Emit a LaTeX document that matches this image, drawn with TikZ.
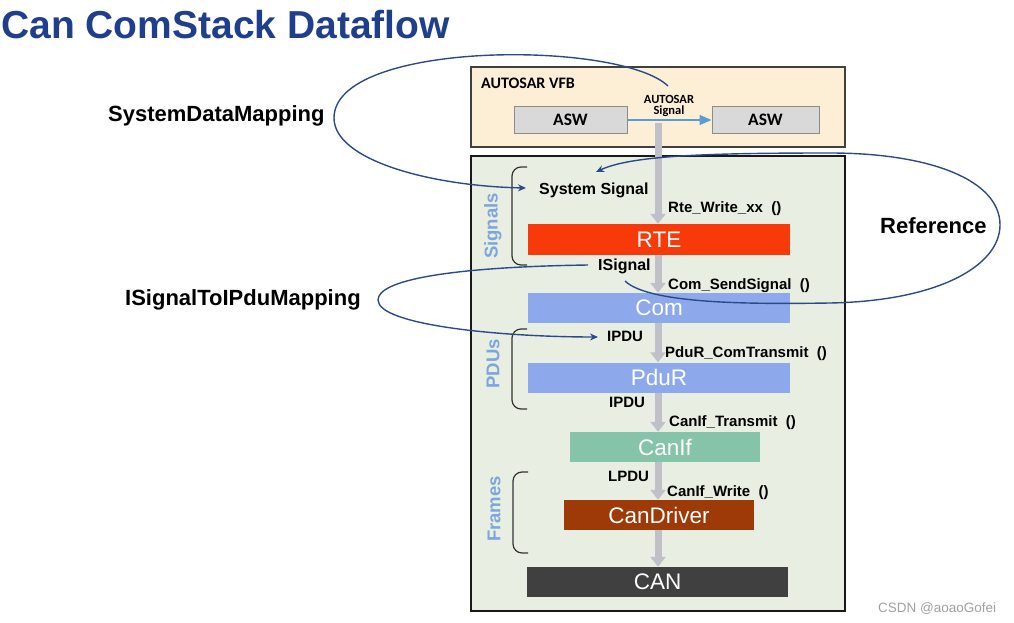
\documentclass[tikz,border=0pt]{standalone}
\usepackage{fontspec}
\setmainfont{Liberation Sans}
\newfontfamily\calibfont{Carlito}
\usetikzlibrary{arrows.meta}
\definecolor{titleblue}{HTML}{1F3E8C}
\definecolor{vfbfill}{HTML}{FCEFD5}
\definecolor{panelfill}{HTML}{E8EEE1}
\definecolor{aswfill}{HTML}{D9D9D9}
\definecolor{aswline}{HTML}{8C8C8C}
\definecolor{aswblue}{HTML}{5B9BD5}
\definecolor{rtecol}{HTML}{F73A0A}
\definecolor{comcol}{HTML}{8EA9EB}
\definecolor{canifcol}{HTML}{86C4A9}
\definecolor{drvcol}{HTML}{9E3A08}
\definecolor{cancol}{HTML}{404040}
\definecolor{flowgray}{HTML}{C0C0C8}
\definecolor{curveblue}{HTML}{2C4A8A}
\definecolor{sideblue}{HTML}{7EA6DC}
\definecolor{bracecol}{HTML}{333333}
\definecolor{wmgray}{HTML}{A0A0A0}
\begin{document}
\begin{tikzpicture}[x=1pt,y=-1pt,
  lbl/.style={anchor=base west, inner sep=0pt, font=\bfseries\fontsize{15}{18}\selectfont},
  biglbl/.style={anchor=base west, inner sep=0pt, font=\bfseries\fontsize{16}{19}\selectfont},
  maplbl/.style={anchor=base west, inner sep=0pt, font=\bfseries\fontsize{22}{26}\selectfont},
  layer/.style={inner sep=0pt, text=white, font=\fontsize{22.5}{26}\selectfont},
  aswbox/.style={draw=aswline, fill=aswfill, line width=1pt, inner sep=0pt, minimum height=27pt, font=\calibfont\bfseries\fontsize{17.5}{20}\selectfont},
  flow/.style={draw=flowgray, line width=7pt, -{Triangle[width=15pt,length=10pt]}},
  mapcurve/.style={draw=curveblue, line width=1.4pt, -{Stealth[length=8pt,width=7pt]}},
  bracket/.style={draw=bracecol, line width=1.2pt, rounded corners=9pt},
  side/.style={rotate=90, text=sideblue, inner sep=0pt, font=\bfseries\fontsize{18.5}{20}\selectfont}]
\useasboundingbox (0,0) rectangle (1014,623);

% title
\node[anchor=base west, inner sep=0pt, text=titleblue, font=\bfseries\fontsize{39}{44}\selectfont] (title) at (1,39) {Can ComStack Dataflow};

% mapping labels
\node[maplbl] (sdm) at (108,122) {SystemDataMapping};
\node[maplbl] (isig2ipdu) at (125,305) {ISignalToIPduMapping};
\node[maplbl] (refl) at (880,233) {Reference};

% VFB box
\node[draw=black!75, fill=vfbfill, line width=1.5pt, minimum width=374pt, minimum height=80pt, inner sep=0pt] (vfb) at (658,107) {};
\node[anchor=base west, inner sep=0pt, font=\calibfont\bfseries\fontsize{16}{18}\selectfont] (vfbl) at (481,89) {AUTOSAR VFB};
\node[aswbox, minimum width=113pt] (aswL) at (570.5,120) {ASW};
\node[aswbox, minimum width=107pt] (aswR) at (765.5,120) {ASW};
\node[inner sep=0pt, align=center, font=\calibfont\bfseries\fontsize{12.5}{11.5}\selectfont] (asig) at (669,106) {AUTOSAR\\Signal};
\draw[aswblue, line width=1.6pt, -{Triangle[width=10pt,length=12pt]}] (aswL.east) -- (aswR.west);

% panel
\node[draw=black!90, fill=panelfill, line width=2pt, minimum width=374pt, minimum height=455pt, inner sep=0pt] (panel) at (658,383.5) {};

% layers
\node[layer, fill=rtecol, minimum width=262pt, minimum height=31pt] (rte) at (659,239.5) {RTE};
\node[layer, fill=comcol, minimum width=262pt, minimum height=30pt] (com) at (659,308) {Com};
\node[layer, fill=comcol, minimum width=262pt, minimum height=30pt] (pdur) at (659,377.5) {PduR};
\node[layer, fill=canifcol, minimum width=190pt, minimum height=30pt] (canif) at (665,447) {CanIf};
\node[layer, fill=drvcol, minimum width=190pt, minimum height=30pt] (candrv) at (659,515) {CanDriver};
\node[layer, fill=cancol, minimum width=261pt, minimum height=30pt] (can) at (657.5,582) {CAN};

% flow arrows
\coordinate (gx) at (658,0);
\coordinate (fstart) at (658,123);
\draw[flow] (fstart) -- (rte.north -| gx);
\draw[flow] (rte.south -| gx) -- (com.north -| gx);
\draw[flow] (com.south -| gx) -- (pdur.north -| gx);
\draw[flow] (pdur.south -| gx) -- (canif.north -| gx);
\draw[flow] (canif.south -| gx) -- (candrv.north -| gx);
\draw[flow] (candrv.south -| gx) -- (can.north -| gx);

% labels
\node[biglbl] (syssig) at (539,194) {System Signal};
\node[lbl] (rtew) at (668,212) {Rte\_Write\_xx\ \ ()};
\node[biglbl] (isig) at (598,270.5) {ISignal};
\node[lbl] (comss) at (668,289) {Com\_SendSignal\ \ ()};
\node[lbl] (ipdu1) at (607,341.5) {IPDU};
\node[lbl] (pdurct) at (665,357) {PduR\_ComTransmit\ \ ()};
\node[lbl] (ipdu2) at (609,407.5) {IPDU};
\node[lbl] (canift) at (669,426) {CanIf\_Transmit\ \ ()};
\node[lbl] (lpdu) at (608,481.5) {LPDU};
\node[lbl] (canifw) at (667,496) {CanIf\_Write\ \ ()};

% side labels and brackets
\node[side] (sigs) at (493,226) {Signals};
\node[side] (pdus) at (493,364) {PDUs};
\node[side] (frames) at (494,509) {Frames};
\draw[bracket] (527,167) -- (512,167) -- (512,265) -- (527,265);
\draw[bracket] (527,329) -- (512,329) -- (512,409) -- (527,409);
\draw[bracket] (528,472) -- (513,472) -- (513,553) -- (528,553);

% mapping curves
\coordinate (c1s) at (668,86);
\coordinate (c1e) at (526,188);
\draw[mapcurve] (c1s) .. controls (620,40) and (334,40) .. (334,118) .. controls (334,160) and (430,186) .. (c1e);
\coordinate (c2s) at (625,281);
\coordinate (c2e) at (596,172);
\draw[mapcurve] (c2s) .. controls (650,305) and (760,304) .. (830,303) .. controls (940,301) and (1000,265) .. (1000,225) .. controls (1000,180) and (930,153) .. (830,153) .. controls (700,153) and (630,156) .. (c2e);
\coordinate (c3s) at (588,265);
\coordinate (c3e) at (598,337);
\draw[mapcurve] (c3s) .. controls (450,267) and (378,280) .. (378,300) .. controls (378,325) and (500,337) .. (c3e);

% watermark
\node[anchor=base west, inner sep=0pt, text=wmgray, font=\fontsize{13.5}{16}\selectfont] (wm) at (878,612) {CSDN @aoaoGofei};
\end{tikzpicture}
\end{document}
